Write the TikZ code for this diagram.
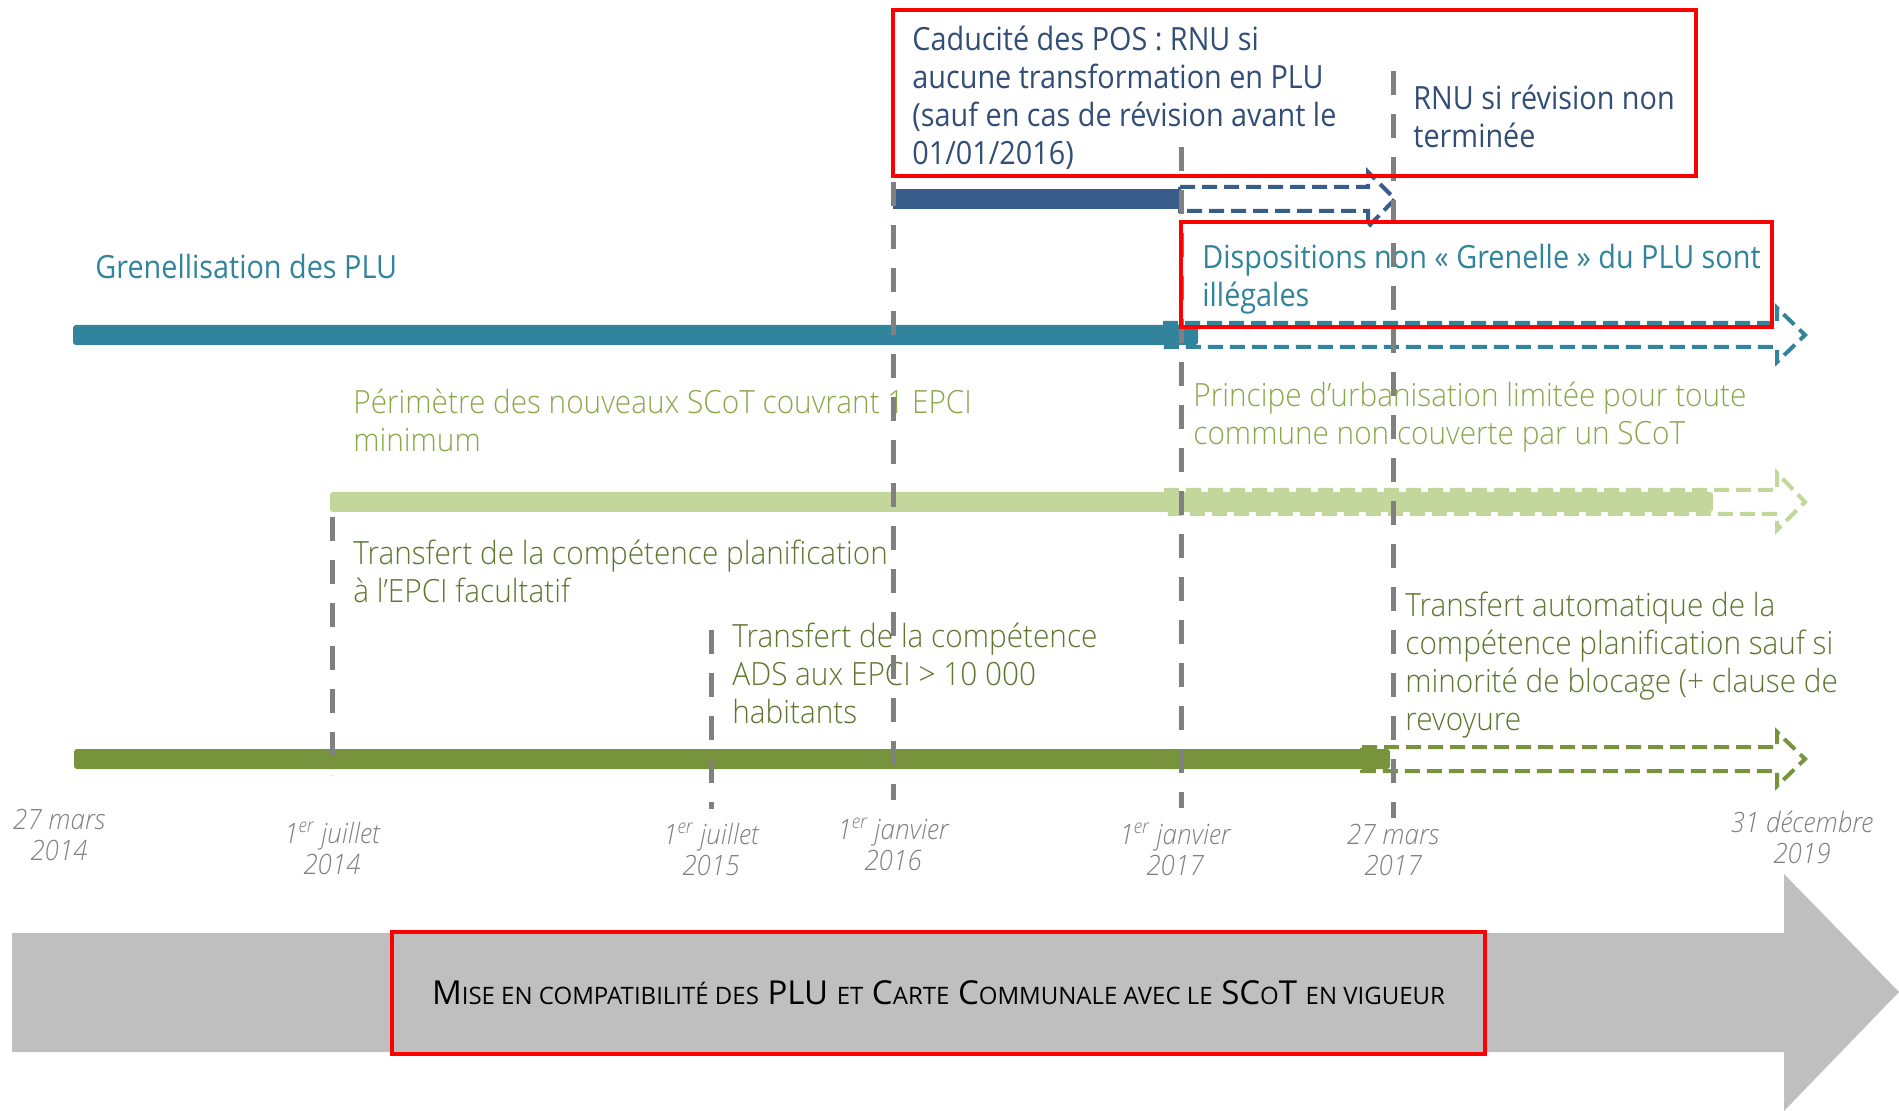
\documentclass[tikz,border=0pt]{standalone}
\usepackage{fontspec}
\setmainfont{Open Sans}[FakeStretch=0.9]
\IfFontExistsTF{Open Sans Light}
  {\newfontfamily\lightfont{Open Sans Light}[FakeStretch=0.93]}
  {\newfontfamily\lightfont{Open Sans}[FakeStretch=0.9]}
\newfontfamily\capfont{Open Sans}
\definecolor{posblue}{RGB}{56,93,138}
\definecolor{postext}{RGB}{50,78,118}
\definecolor{grenteal}{RGB}{49,132,155}
\definecolor{scotgreen}{RGB}{195,214,155}
\definecolor{scottext}{RGB}{137,168,74}
\definecolor{olive}{RGB}{119,147,60}
\definecolor{olivetext}{RGB}{94,118,46}
\definecolor{dategray}{RGB}{128,128,128}
\definecolor{fleche}{RGB}{191,191,191}
\newcommand\petitcap[1]{{\fontsize{12}{14}\selectfont\MakeUppercase{#1}}}
\begin{document}
\begin{tikzpicture}[x=0.5pt,y=-0.5pt,
    txt/.style={anchor=base west,inner sep=0pt,align=left,font=\fontsize{16}{19}\selectfont},
    lighttxt/.style={txt,font=\lightfont\fontsize{16}{19}\selectfont},
    datelbl/.style={anchor=base,inner sep=0pt,align=center,text=dategray,font=\lightfont\itshape\fontsize{14}{15.5}\selectfont},
    jalon/.style={draw=dategray,line width=2.5pt,dash pattern=on 12pt off 9.5pt},
    suite/.style={line width=2pt,dash pattern=on 7.5pt off 3.5pt},
    cadre/.style={draw=red,line width=2.25pt}]
    \useasboundingbox (0,0) rectangle (1899,1111);
    % fleche de fond
    \fill[fleche] (12,933) -- (1784,933) -- (1784,874) -- (1899,992) -- (1784,1111) -- (1784,1052) -- (12,1052) -- cycle;
    % barres
    \fill[posblue] (893,189) rectangle (1181,209);
    \fill[grenteal,rounded corners=1.5pt] (73,325) rectangle (1198,345);
    \fill[scotgreen,rounded corners=1.5pt] (330,492) rectangle (1713,512);
    \fill[olive,rounded corners=1.5pt] (74,749) rectangle (1390,769);
    % suites en pointilles
    \draw[suite,draw=posblue] (1180,187) -- (1368,187) -- (1368,172) -- (1395,199) -- (1368,227) -- (1368,211) -- (1180,211) -- cycle;
    \draw[suite,draw=grenteal] (1163,323) -- (1777,323) -- (1777,308) -- (1805,335) -- (1777,362) -- (1777,347) -- (1163,347) -- cycle;
    \draw[suite,draw=scotgreen] (1164,490) -- (1777,490) -- (1777,473) -- (1805,502) -- (1777,530) -- (1777,514) -- (1164,514) -- cycle;
    \draw[suite,draw=olive] (1362,747) -- (1777,747) -- (1777,732) -- (1805,759) -- (1777,786) -- (1777,771) -- (1362,771) -- cycle;
    % textes (ancre = ligne de base de la derniere ligne)
    \node[txt,text=postext] (caducite) at (912,165) {Caducité des POS : RNU si\\aucune transformation en PLU\\(sauf en cas de révision avant le\\01/01/2016)};
    \node[txt,text=postext] (rnu) at (1413,148) {RNU si révision non\\terminée};
    \node[txt,text=grenteal] (grenelle) at (95,279) {Grenellisation des PLU};
    \node[txt,text=grenteal] (illegal) at (1202,307) {Dispositions non «~Grenelle~» du PLU sont\\illégales};
    \node[lighttxt,text=scottext] (perimetre) at (353,452) {Périmètre des nouveaux SCoT couvrant 1 EPCI\\minimum};
    \node[lighttxt,text=scottext] (principe) at (1193,445) {Principe d’urbanisation limitée pour toute\\commune non couverte par un SCoT};
    \node[lighttxt,text=olivetext] (facultatif) at (353,603) {Transfert de la compétence planification\\à l’EPCI facultatif};
    \node[lighttxt,text=olivetext] (ads) at (732,723) {Transfert de la compétence\\ADS aux EPCI > 10~000\\habitants};
    \node[lighttxt,text=olivetext] (auto) at (1405,730) {Transfert automatique de la\\compétence planification sauf si\\minorité de blocage (+ clause de\\revoyure};
    % dates
    \node[datelbl] (mar14) at (59,860) {27 mars\\2014};
    \node[datelbl] (jul14) at (332,874) {1\textsuperscript{er} juillet\\2014};
    \node[datelbl] (jul15) at (711,875) {1\textsuperscript{er} juillet\\2015};
    \node[datelbl] (jan16) at (893,870) {1\textsuperscript{er} janvier\\2016};
    \node[datelbl] (jan17) at (1175,875) {1\textsuperscript{er} janvier\\2017};
    \node[datelbl] (mar17) at (1393,875) {27 mars\\2017};
    \node[datelbl] (dec19) at (1802,863) {31 décembre\\2019};
    % jalons
    \draw[jalon] (332,517) -- (332,775);
    \draw[jalon] (711,630) -- (711,809);
    \draw[jalon] (893,182) -- (893,800);
    \draw[jalon] (1181,147) -- (1181,808);
    \draw[jalon] (1393,71) -- (1393,818);
    % cadres rouges
    \draw[cadre] (893,10) rectangle (1696,176);
    \draw[cadre] (1181,222) rectangle (1772,327);
    \node[cadre,minimum width=546.5pt,minimum height=61pt,inner sep=0pt,font=\capfont\fontsize{16.5}{18}\selectfont] (compat) at (938.5,993)
        {M\petitcap{ise en compatibilité des} PLU \petitcap{et} C\petitcap{arte} C\petitcap{ommunale avec le} SC\petitcap{o}T \petitcap{en vigueur}};
\end{tikzpicture}
\end{document}
